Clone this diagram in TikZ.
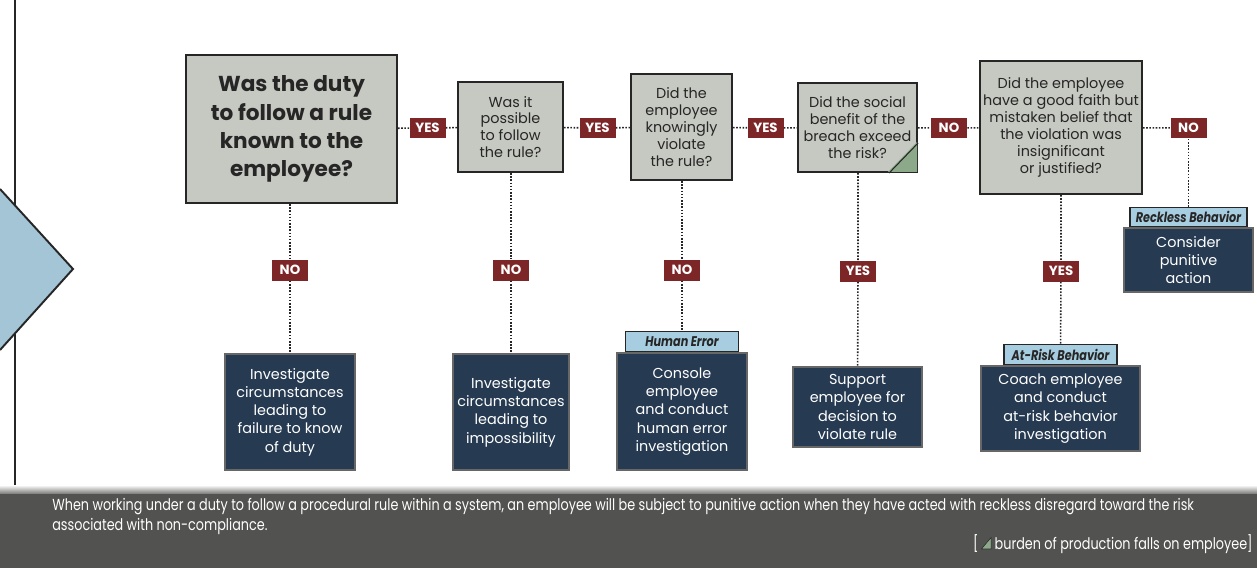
\documentclass[tikz,border=0pt]{standalone}
\usepackage{fontspec}
\setmainfont{Poppins}
\newfontfamily\narrowfont{Poppins}[FakeStretch=0.8]
\usetikzlibrary{positioning}
\definecolor{askcolor}{RGB}{198,201,193}
\definecolor{actcolor}{RGB}{38,58,82}
\definecolor{tagcolor}{RGB}{167,205,224}
\definecolor{replycolor}{RGB}{124,38,40}
\definecolor{barcolor}{RGB}{82,82,80}
\definecolor{cornercolor}{RGB}{140,170,138}
\definecolor{edgecolor}{RGB}{38,38,38}
\newcommand{\burdenmark}{\tikz[baseline=0pt]\draw[fill=cornercolor, draw=edgecolor, line width=0.3pt] (0,0) -- (1.1ex,0) -- (1.1ex,1.3ex) -- cycle;}

\begin{document}
\begin{tikzpicture}[x=0.02cm, y=-0.02cm,
    ask/.style={rectangle, draw=edgecolor, line width=1.2pt, fill=askcolor, text=edgecolor, align=center, inner sep=0pt, font=\fontsize{8.2}{9.6}\selectfont},
    act/.style={rectangle, draw=edgecolor!70, line width=0.8pt, fill=actcolor, text=white, align=center, inner sep=0pt, font=\fontsize{8.2}{10.4}\selectfont},
    tag/.style={rectangle, draw=edgecolor, line width=0.8pt, fill=tagcolor, text=edgecolor, minimum height=0.4cm, inner sep=0pt, font=\narrowfont\bfseries\itshape\fontsize{8}{9}\selectfont},
    reply/.style={rectangle, fill=replycolor, text=white, minimum width=0.72cm, minimum height=0.42cm, inner sep=0pt, font=\bfseries\fontsize{7.6}{9}\selectfont},
    link/.style={edgecolor, line width=0.9pt, dash pattern=on 0.9pt off 0.9pt}
]
\useasboundingbox (0,0) rectangle (1257,568);

% side marker
\draw[edgecolor, line width=1.1pt] (15,0) -- (15,485);
\fill[tagcolor!90!gray] (0,189) -- (73,269) -- (0,350) -- cycle;
\draw[edgecolor, line width=1.1pt] (0,189) -- (73,269) -- (0,350);

% questions
\node[ask, minimum width=4.22cm, minimum height=2.96cm, font=\bfseries\fontsize{12.3}{16}\selectfont] (duty) at (291.5,129) {Was the duty\\to follow a rule\\known to the\\employee?};
\node[ask, minimum width=2.10cm, minimum height=1.80cm] (possible) at (510.5,127) {Was it\\possible\\to follow\\the rule?};
\node[ask, minimum width=2.02cm, minimum height=2.12cm] (knowing) at (681.5,127) {Did the\\employee\\knowingly\\violate\\the rule?};
\node[ask, minimum width=2.38cm, minimum height=1.78cm] (benefit) at (857.5,127.5) {Did the social\\benefit of the\\breach exceed\\the risk?};
\node[ask, minimum width=3.24cm, minimum height=2.66cm] (faith) at (1061,127.5) {Did the employee\\have a good faith but\\mistaken belief that\\the violation was\\insignificant\\or justified?};
\fill[cornercolor] ([shift={(-0.6pt,0.6pt)}]benefit.south east) -- ++(-29,0) -- ++(29,-30) -- cycle;
\draw[edgecolor, line width=0.6pt] ([shift={(-29,0)}]benefit.south east) -- ([shift={(0,-30)}]benefit.south east);

% answers
\node[reply] (yesA) at (427.5,128) {YES};
\node[reply] (yesB) at (597.5,128) {YES};
\node[reply] (yesC) at (765.5,128) {YES};
\node[reply] (noD) at (949,128) {NO};
\node[reply] (noE) at (1188.5,128) {NO};
\node[reply] (noA) at (290,270) {NO};
\node[reply] (noB) at (511,270) {NO};
\node[reply] (noC) at (682,270) {NO};
\node[reply] (yesD) at (858,271) {YES};
\node[reply] (yesE) at (1061,271) {YES};

% actions
\node[act, minimum width=2.60cm, minimum height=2.32cm] (know) at (290,412) {Investigate\\circumstances\\leading to\\failure to know\\of duty};
\node[act, minimum width=2.32cm, minimum height=2.32cm] (impossible) at (511,412) {Investigate\\circumstances\\leading to\\impossibility};
\node[act, minimum width=2.60cm, minimum height=2.34cm] (console) at (682,411.5) {Console\\employee\\and conduct\\human error\\investigation};
\node[act, minimum width=2.58cm, minimum height=1.60cm] (support) at (857.5,407) {Support\\employee for\\decision to\\violate rule};
\node[act, minimum width=3.18cm, minimum height=1.70cm] (coach) at (1060.5,408.5) {Coach employee\\and conduct\\at-risk behavior\\investigation};
\node[act, minimum width=2.58cm, minimum height=1.28cm] (punish) at (1188.5,260) {Consider\\punitive\\action};

\node[tag, minimum width=2.26cm, above=0pt of console] (humanerr) {Human Error};
\node[tag, minimum width=2.26cm, above=0pt of coach] (atrisk) {At-Risk Behavior};
\node[tag, minimum width=2.34cm, minimum height=0.38cm, above=0pt of punish] (reckless) {Reckless Behavior};

% connectors
\draw[link] (duty) -- (yesA) -- (possible) -- (yesB) -- (knowing) -- (yesC) -- (benefit) -- (noD) -- (faith) -- (noE);
\draw[link] (noE) -- (reckless);
\draw[link] (noA |- duty.south) -- (noA) -- (know);
\draw[link] (noB |- possible.south) -- (noB) -- (impossible);
\draw[link] (noC |- knowing.south) -- (noC) -- (humanerr);
\draw[link] (yesD |- benefit.south) -- (yesD) -- (support);
\draw[link] (yesE |- faith.south) -- (yesE) -- (atrisk);

% summary bar
\fill[barcolor] (0,493) rectangle (1257,568);
\shade[top color=white, bottom color=barcolor!70] (0,485) rectangle (1257,493);
\node[anchor=north west, align=left, text=white, inner sep=0pt, font=\narrowfont\fontsize{9.1}{11.3}\selectfont] (rule) at (52,498) {When working under a duty to follow a procedural rule within a system, an employee will be subject to punitive action when they have acted with reckless disregard toward the risk\\associated with non-compliance.};
\node[anchor=base east, text=white, inner sep=0pt, font=\narrowfont\fontsize{9.1}{11.3}\selectfont] (burden) at (1253,549) {[\,\burdenmark\ burden of production falls on employee]};
\end{tikzpicture}
\end{document}
